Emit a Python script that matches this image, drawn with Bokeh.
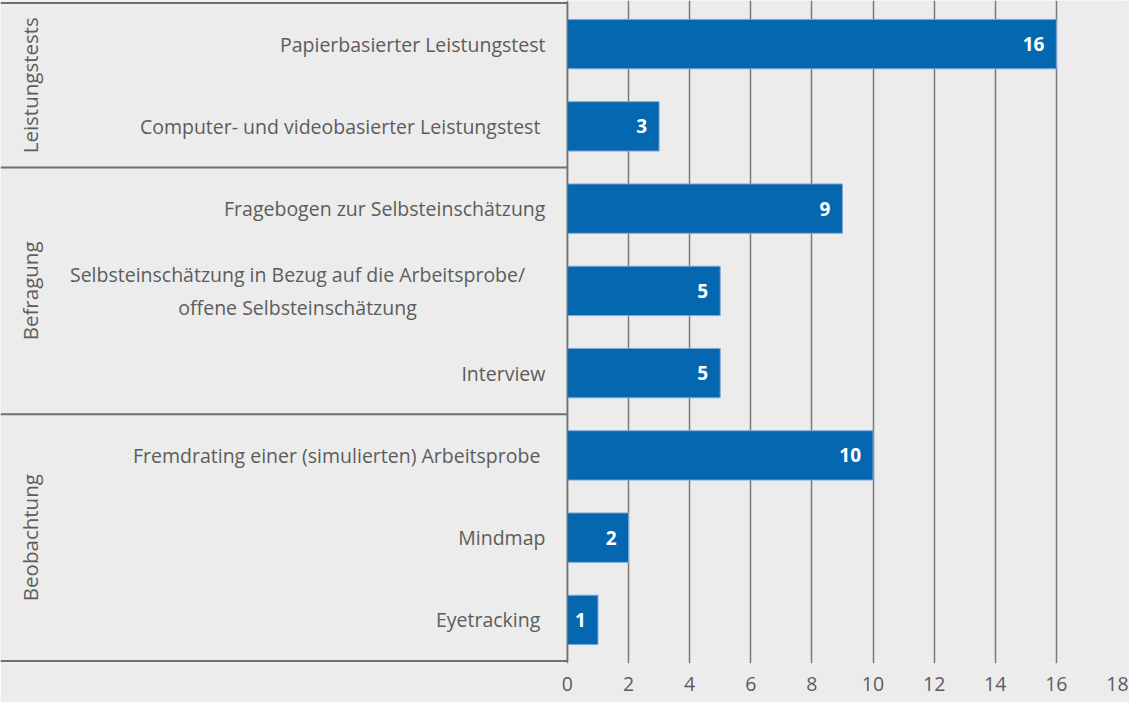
import math
from bokeh.plotting import figure
from bokeh.models import ColumnDataSource, FixedTicker, Range1d
from bokeh.core.properties import value
from bokeh.embed import file_html
from bokeh.resources import INLINE

# ---- data ----
categories = [
    "Papierbasierter Leistungstest",
    "Computer- und videobasierter Leistungstest\u00a0",
    "Fragebogen zur Selbsteinschätzung",
    "Selbsteinschätzung in Bezug auf die Arbeitsprobe/\noffene Selbsteinschätzung",
    "Interview",
    "Fremdrating einer (simulierten) Arbeitsprobe\u00a0",
    "Mindmap",
    "Eyetracking\u00a0",
]
values = [16, 3, 9, 5, 5, 10, 2, 1]
groups = ["Leistungstests", "Befragung", "Beobachtung"]
group_sizes = [2, 3, 3]
x_ticks = [0, 2, 4, 6, 8, 10, 12, 14, 16, 18]

# ---- styling / layout ----
BG = "#ececec"
BAR = "#0567b0"
BAR_EDGE = "#7ea8d8"
TXT = "#5c5c5c"
LINE = "#707070"
FONT = "Open Sans"
X_LEFT = -18.55
LABEL_X = -0.72
MULTI_X = -8.83
GROUP_X = -17.6

n = len(categories)
ys = [n - i - 0.5 for i in range(n)]

p = figure(width=1129, height=702, output_backend="svg", toolbar_location=None,
           x_range=Range1d(X_LEFT, 18), y_range=Range1d(-0.03, n + 0.03),
           y_axis_location=None, min_border_left=0, min_border_right=12,
           min_border_top=0, min_border_bottom=39)
p.background_fill_color = BG
p.border_fill_color = BG
p.outline_line_color = None

# x axis / grid
ax = p.xaxis[0]
ax.ticker = FixedTicker(ticks=x_ticks)
ax.axis_line_color = None
ax.major_tick_line_color = None
ax.minor_tick_line_color = None
ax.major_label_text_font = FONT
ax.major_label_text_font_size = "19.5px"
ax.major_label_text_color = TXT
ax.major_label_standoff = 7
p.xgrid.ticker = FixedTicker(ticks=x_ticks)
p.xgrid.grid_line_color = "#7a7a7a"
p.xgrid.grid_line_width = 1.5
p.ygrid.visible = False

# bars
src = ColumnDataSource(dict(y=ys, v=values, lab=[str(v) for v in values], cat=categories))
p.hbar(y="y", right="v", left=0, height=0.6, source=src,
       fill_color=BAR, line_color=BAR_EDGE, line_width=1)
p.text(x="v", y="y", text="lab", source=src, x_offset=-12,
       text_align="right", text_baseline="middle", text_color="white",
       text_font=value(FONT), text_font_style="bold", text_font_size="19px")

# category labels
single = [i for i, c in enumerate(categories) if "\n" not in c]
multi = [i for i, c in enumerate(categories) if "\n" in c]
p.text(x=[LABEL_X] * len(single), y=[ys[i] for i in single],
       text=[categories[i] for i in single],
       text_align="right", text_baseline="middle", text_color=TXT,
       text_font=value(FONT), text_font_size="19.5px")
p.text(x=[MULTI_X] * len(multi), y=[ys[i] for i in multi],
       text=[categories[i] for i in multi],
       text_align="center", text_baseline="middle", text_color=TXT,
       text_font=value(FONT), text_font_size="19.5px", text_line_height=1.2)

# group separators and labels
bounds = [n]
for s in group_sizes:
    bounds.append(bounds[-1] - s)
p.segment(x0=[X_LEFT] * len(bounds), x1=[0] * len(bounds), y0=bounds, y1=bounds,
          line_color=LINE, line_width=2)
p.segment(x0=[0], x1=[0], y0=[0], y1=[n], line_color=LINE, line_width=1.5)
centers = [(bounds[i] + bounds[i + 1]) / 2 for i in range(len(groups))]
p.text(x=[GROUP_X] * len(groups), y=centers, text=groups, angle=math.pi / 2,
       text_align="center", text_baseline="middle", text_color=TXT,
       text_font=value(FONT), text_font_size="20.5px")

open("out.html", "w").write(file_html(p, INLINE))
